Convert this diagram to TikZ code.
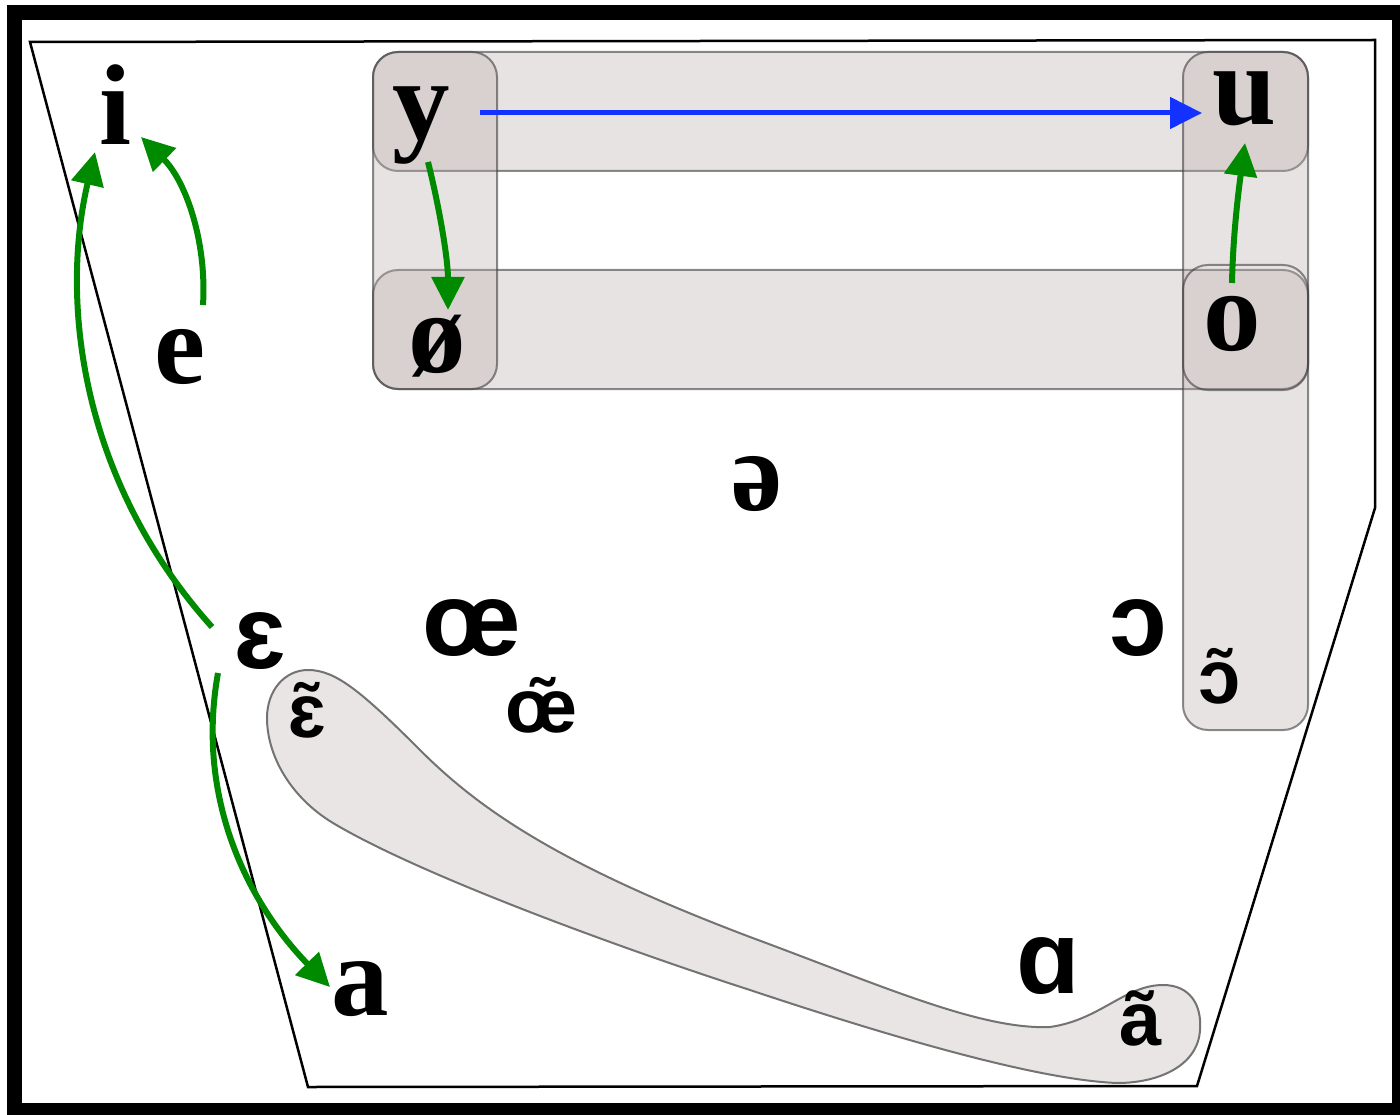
\documentclass[tikz,border=0pt]{standalone}
\usepackage{fontspec}
\setmainfont{Liberation Serif}
\newfontfamily\ipasans{Liberation Sans}
\usetikzlibrary{arrows.meta}
\definecolor{boxfill}{RGB}{186,171,171}
\definecolor{blobfill}{RGB}{233,229,229}
\definecolor{arrgreen}{RGB}{0,138,0}
\definecolor{arrblue}{RGB}{20,50,255}
\tikzset{
  cellbox/.style={fill=boxfill,fill opacity=0.32,draw=black!75,draw opacity=0.6,line width=2pt,rounded corners=25pt},
  celledge/.style={draw=black!75,draw opacity=0.6,line width=2pt,rounded corners=25pt},
  serifv/.style={anchor=base,inner sep=0pt,font=\fontsize{115}{120}\selectfont\bfseries},
  sansv/.style={anchor=base,inner sep=0pt,font=\fontsize{104}{110}\selectfont\ipasans\bfseries},
  sanssmall/.style={anchor=base,inner sep=0pt,font=\fontsize{76}{80}\selectfont\ipasans\bfseries},
  garrow/.style={draw=arrgreen,line width=6pt,-{Triangle[width=32pt,length=33pt]}},
  barrow/.style={draw=arrblue,line width=5pt,-{Triangle[width=31pt,length=32pt]}}
}
\begin{document}
\begin{tikzpicture}[x=1pt,y=-1pt]
\useasboundingbox (0,0) rectangle (1400,1115);
\fill[white] (0,0) rectangle (1400,1115);
% outer frame
\draw[line width=15pt] (14,13) rectangle (1399,1110);
% vowel chart
\draw[line width=2.5pt,line join=miter] (30,42) -- (1375,40) -- (1375,508) -- (1197,1086) -- (308,1087) -- cycle;
% grouping boxes
\draw[cellbox] (373,52) rectangle (1308,171);
\draw[cellbox] (373,270) rectangle (1308,389);
\draw[cellbox] (373,52) rectangle (497,389);
\draw[cellbox] (1183,52) rectangle (1308,730);
\draw[celledge] (1183,265) rectangle (1308,390);
% nasal blob
\draw[fill=blobfill,draw=black!55,line width=2pt]
  (308,670) .. controls (335,670) and (360,690) .. (420,750)
  .. controls (480,810) and (560,865) .. (750,937)
  .. controls (880,985) and (980,1030) .. (1050,1027)
  .. controls (1100,1020) and (1125,985) .. (1163,985)
  .. controls (1190,985) and (1202,1005) .. (1200,1030)
  .. controls (1198,1065) and (1160,1083) .. (1117,1083)
  .. controls (1040,1080) and (900,1040) .. (750,990)
  .. controls (620,948) and (420,875) .. (333,823)
  .. controls (290,797) and (267,755) .. (267,718)
  .. controls (267,690) and (285,670) .. (308,670) -- cycle;
% vowels
\node[serifv] (i) at (115,145) {i};
\node[serifv] (e) at (180,383) {e};
\node[serifv] (y) at (421,140) {y};
\node[serifv] (oe) at (437,372) {ø};
\node[serifv] (u) at (1244,125) {u};
\node[serifv] (o) at (1232,350) {o};
\node[serifv] (schwa) at (757,510) {ə};
\node[serifv] (a) at (360,1015) {a};
\node[sansv] (eps) at (260,668) {ɛ};
\node[sansv] (oelig) at (472,655) {œ};
\node[sansv] (openo) at (1138,655) {ɔ};
\node[sansv] (alpha) at (1048,993) {ɑ};
\node[sanssmall] (epsn) at (307,737) {ɛ̃};
\node[sanssmall] (oeligN) at (541,732) {œ̃};
\node[sanssmall] (openoN) at (1220,703) {ɔ̃};
\node[sanssmall] (an) at (1141,1045) {ã};
% arrows
\draw[garrow] ([shift={(23,-78)}]e.base) .. controls (207,240) and (185,180) .. ([shift={(26,-8)}]i.base);
\draw[garrow] ([shift={(-48,-41)}]eps.base) .. controls (80,480) and (60,300) .. ([shift={(-20,7)}]i.base);
\draw[garrow] ([shift={(-42,5)}]eps.base) .. controls (195,800) and (250,905) .. ([shift={(-30,-28)}]a.base);
\draw[garrow] ([shift={(7,22)}]y.base) .. controls (440,210) and (448,260) .. ([shift={(11,-62)}]oe.base);
\draw[garrow] ([shift={(0,-67)}]o.base) .. controls (1233,230) and (1240,180) .. ([shift={(1,18)}]u.base);
\draw[barrow] ([shift={(59,-27)}]y.base) -- ([shift={(-42,-12)}]u.base);
\end{tikzpicture}
\end{document}
